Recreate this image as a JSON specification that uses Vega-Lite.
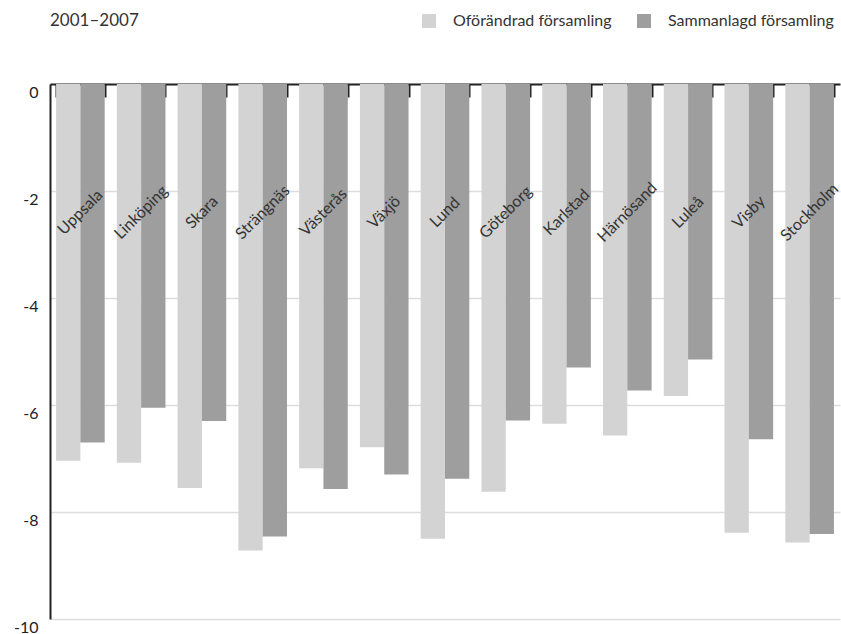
{
  "$schema": "https://vega.github.io/schema/vega-lite/v6.json",
  "autosize": "none",
  "width": 790,
  "height": 535,
  "padding": {"left": 50, "top": 84, "right": 1, "bottom": 15},
  "background": "white",
  "config": {
    "font": "Lato",
    "view": {"stroke": null}
  },
  "title": {
    "text": "2001–2007",
    "anchor": "start",
    "frame": "group",
    "fontSize": 17,
    "fontWeight": "normal",
    "color": "#333333",
    "offset": -17
  },
  "data": {
    "values": [
      {"stift": "Uppsala", "serie": "Oförändrad församling", "v": -7.04},
      {"stift": "Uppsala", "serie": "Sammanlagd församling", "v": -6.70},
      {"stift": "Linköping", "serie": "Oförändrad församling", "v": -7.08},
      {"stift": "Linköping", "serie": "Sammanlagd församling", "v": -6.05},
      {"stift": "Skara", "serie": "Oförändrad församling", "v": -7.55},
      {"stift": "Skara", "serie": "Sammanlagd församling", "v": -6.30},
      {"stift": "Strängnäs", "serie": "Oförändrad församling", "v": -8.72},
      {"stift": "Strängnäs", "serie": "Sammanlagd församling", "v": -8.46},
      {"stift": "Västerås", "serie": "Oförändrad församling", "v": -7.18},
      {"stift": "Västerås", "serie": "Sammanlagd församling", "v": -7.57},
      {"stift": "Växjö", "serie": "Oförändrad församling", "v": -6.79},
      {"stift": "Växjö", "serie": "Sammanlagd församling", "v": -7.30},
      {"stift": "Lund", "serie": "Oförändrad församling", "v": -8.50},
      {"stift": "Lund", "serie": "Sammanlagd församling", "v": -7.38},
      {"stift": "Göteborg", "serie": "Oförändrad församling", "v": -7.62},
      {"stift": "Göteborg", "serie": "Sammanlagd församling", "v": -6.29},
      {"stift": "Karlstad", "serie": "Oförändrad församling", "v": -6.35},
      {"stift": "Karlstad", "serie": "Sammanlagd församling", "v": -5.30},
      {"stift": "Härnösand", "serie": "Oförändrad församling", "v": -6.57},
      {"stift": "Härnösand", "serie": "Sammanlagd församling", "v": -5.73},
      {"stift": "Luleå", "serie": "Oförändrad församling", "v": -5.83},
      {"stift": "Luleå", "serie": "Sammanlagd församling", "v": -5.15},
      {"stift": "Visby", "serie": "Oförändrad församling", "v": -8.39},
      {"stift": "Visby", "serie": "Sammanlagd församling", "v": -6.64},
      {"stift": "Stockholm", "serie": "Oförändrad församling", "v": -8.57},
      {"stift": "Stockholm", "serie": "Sammanlagd församling", "v": -8.41}
    ]
  },
  "encoding": {
    "x": {
      "field": "stift",
      "type": "nominal",
      "sort": null,
      "scale": {"paddingInner": 0.2, "paddingOuter": 0.1},
      "axis": {
        "orient": "top",
        "title": null,
        "labels": false,
        "domainColor": "#222222",
        "domainWidth": 2,
        "tickColor": "#222222",
        "tickWidth": 2,
        "tickSize": -13,
        "tickBand": "extent",
        "grid": false
      }
    }
  },
  "layer": [
    {
      "mark": {"type": "bar"},
      "encoding": {
        "xOffset": {"field": "serie", "type": "nominal", "scale": {"paddingInner": 0, "paddingOuter": 0}},
        "y": {
          "field": "v",
          "type": "quantitative",
          "scale": {"domain": [-10, 0], "nice": false},
          "axis": {
            "title": null,
            "values": [0, -2, -4, -6, -8, -10],
            "labelExpr": "datum.value < 0 ? '-' + abs(datum.value) : '' + datum.value",
            "ticks": false,
            "domainColor": "#222222",
            "domainWidth": 2,
            "gridColor": "#dddddd",
            "gridWidth": 1.5,
            "labelFontSize": 16,
            "labelColor": "#222222",
            "labelPadding": 12,
            "labelOffset": 8
          }
        },
        "color": {
          "field": "serie",
          "type": "nominal",
          "scale": {"domain": ["Oförändrad församling", "Sammanlagd församling"], "range": ["#d3d3d3", "#9e9e9e"]},
          "legend": {
            "title": null,
            "orient": "none",
            "direction": "horizontal",
            "legendX": 371,
            "legendY": -71,
            "symbolType": "square",
            "symbolSize": 196,
            "symbolStrokeWidth": 0,
            "labelFontSize": 16,
            "labelLimit": 400,
            "labelColor": "#333333",
            "labelOffset": 16,
            "columnPadding": 24
          }
        }
      }
    },
    {
      "transform": [{"filter": "datum.serie === 'Oförändrad församling'"}],
      "mark": {"type": "text", "angle": -45, "align": "center", "baseline": "middle", "fontSize": 16, "color": "#333333"},
      "encoding": {
        "y": {"datum": -2.4},
        "text": {"field": "stift"}
      }
    }
  ]
}
